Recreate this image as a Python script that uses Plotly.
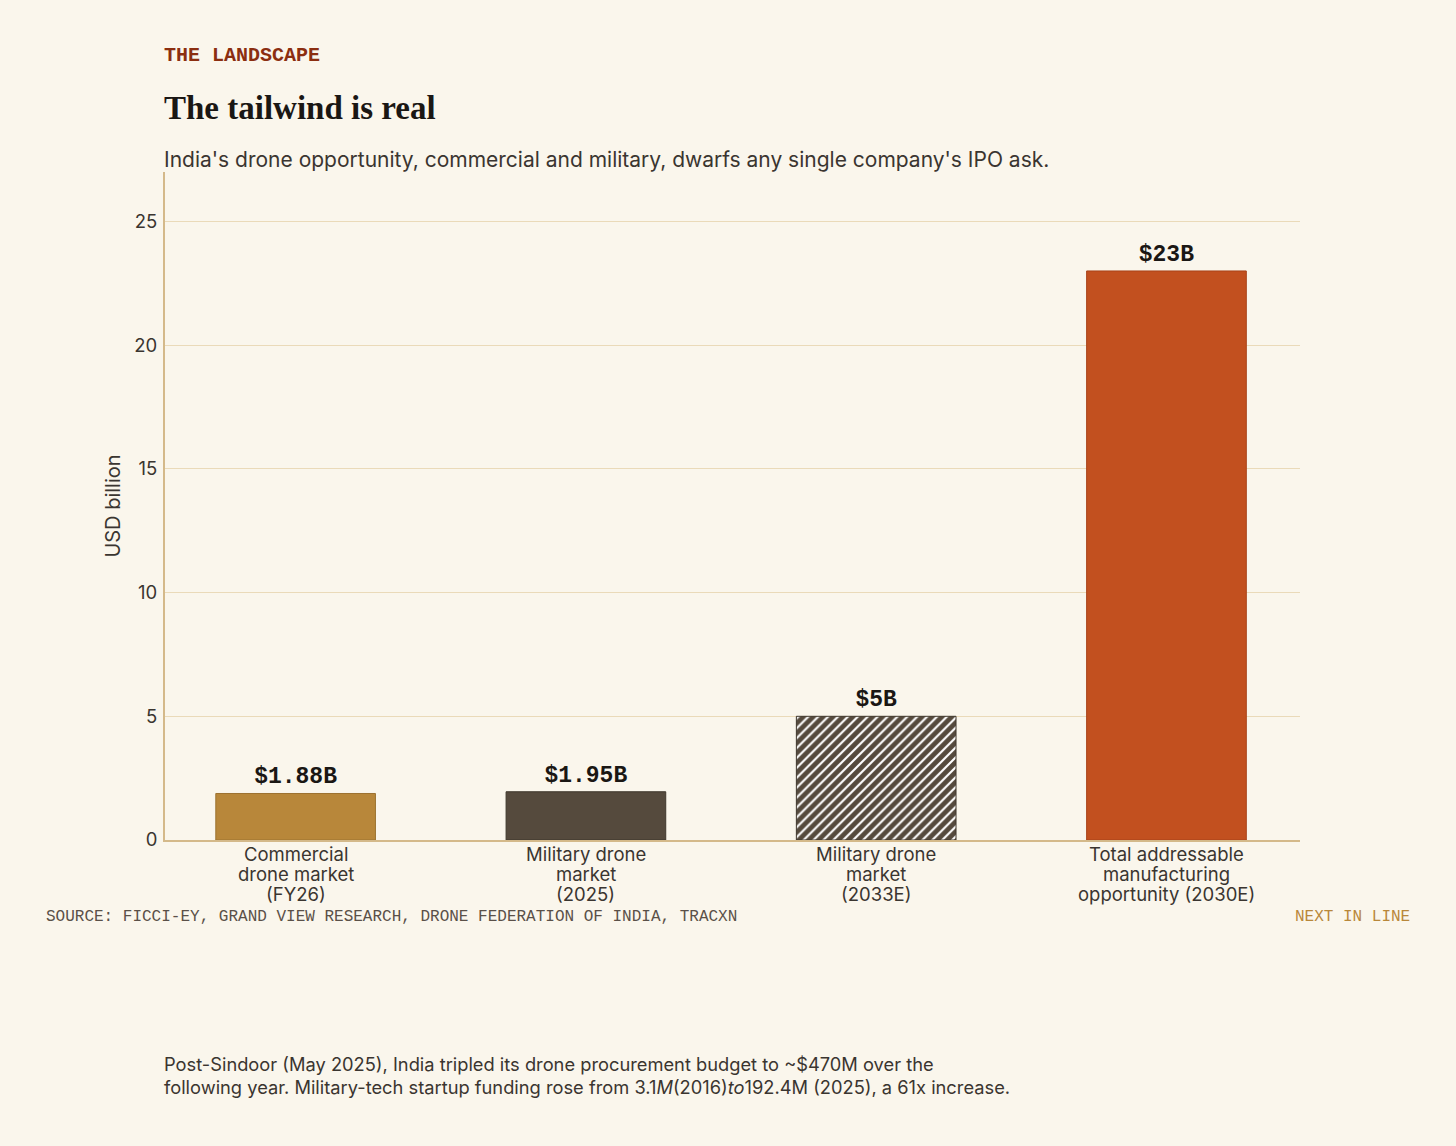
import plotly.graph_objects as go

# data
categories = [
    "Commercial<br>drone market<br>(FY26)",
    "Military drone<br>market<br>(2025)",
    "Military drone<br>market<br>(2033E)",
    "Total addressable<br>manufacturing<br>opportunity (2030E)",
]
values = [1.88, 1.95, 5, 23]
value_labels = ["$1.88B", "$1.95B", "$5B", "$23B"]
bar_colors = ["#B8873A", "#554A3D", "#554A3D", "#C2501F"]
line_colors = ["#9C7230", "#3F372D", "#3F372D", "#A8431A"]
pattern_shapes = ["", "", "/", ""]
y_ticks = [0, 5, 10, 15, 20, 25]

W, H = 1456, 1146
L, R, T, B = 165, 156, 172, 306

BG = "#FAF6EC"
INK = "#3A3530"
MONO = "Liberation Mono, DejaVu Sans Mono, monospace"
SANS = "Inter, Noto Sans, sans-serif"
SERIF = "Liberation Serif, DejaVu Serif, serif"

fig = go.Figure()
fig.add_trace(go.Bar(
    x=list(range(len(categories))),
    y=values,
    width=0.55,
    text=value_labels,
    textposition="outside",
    cliponaxis=False,
    textfont=dict(family=MONO, size=23, color="#1A1714", weight="bold"),
    marker=dict(
        color=bar_colors,
        line=dict(color=line_colors, width=1),
        pattern=dict(shape=pattern_shapes, fgcolor=BG, fgopacity=1, size=7,
                     solidity=0.3, fillmode="overlay"),
    ),
    showlegend=False,
    hoverinfo="skip",
))

fig.update_layout(
    width=W, height=H,
    paper_bgcolor=BG, plot_bgcolor=BG,
    margin=dict(l=L, r=R, t=T, b=B),
    font=dict(family=SANS, color=INK, size=18),
)

# category labels are drawn line by line below (tighter leading than ticktext)
fig.update_xaxes(
    range=[-0.45, 3.46],
    tickmode="array",
    tickvals=list(range(len(categories))),
    ticktext=["" for _ in categories],
    showline=True, linecolor="#D4B98A", linewidth=2,
    showgrid=False, ticks="", zeroline=False,
    automargin=False,
)
fig.update_yaxes(
    range=[0, 27],
    tickvals=y_ticks,
    tickfont=dict(family=SANS, size=18.5, color=INK),
    showline=True, linecolor="#D4B98A", linewidth=2,
    gridcolor="#EADAB9", gridwidth=1,
    zeroline=False, ticks="", ticklabelstandoff=2,
    title=dict(text="USD billion", font=dict(family=SANS, size=20, color=INK), standoff=8),
    automargin=False,
)


def paper_y(px_y):
    return (H - B - px_y) / (H - T - B)


def paper_x(px_x):
    return (px_x - L) / (W - L - R)


for i, cat in enumerate(categories):
    for k, line in enumerate(cat.split("<br>")):
        fig.add_annotation(
            text=line, x=i, xref="x", y=paper_y(854 + 20 * k), yref="paper",
            xanchor="center", yanchor="middle", showarrow=False, borderpad=0,
            font=dict(family=SANS, size=18.5, color=INK),
        )

texts = [
    ("<b>THE LANDSCAPE</b>", 163, 55, "left", dict(family=MONO, size=20, color="#8B2E10")),
    ("<b>The tailwind is real</b>", 163, 108, "left", dict(family=SERIF, size=33, color="#1A1714")),
    ("India's drone opportunity, commercial and military, dwarfs any single company's IPO ask.",
     163, 160, "left", dict(family=SANS, size=21, color=INK)),
    ("SOURCE: FICCI-EY, GRAND VIEW RESEARCH, DRONE FEDERATION OF INDIA, TRACXN",
     45, 917, "left", dict(family=MONO, size=16, color="#5A5048")),
    ("NEXT IN LINE", 1411, 917, "right", dict(family=MONO, size=16, color="#B8873A")),
    ("Post-Sindoor (May 2025), India tripled its drone procurement budget to ~$470M over the",
     163, 1064, "left", dict(family=SANS, size=18.3, color=INK)),
    ("following year. Military-tech startup funding rose from 3.1<i>M</i>(2016)<i>to</i>192.4M (2025), a 61x increase.",
     163, 1087, "left", dict(family=SANS, size=18.3, color=INK)),
]
for text, px_x, px_y, anchor, font in texts:
    fig.add_annotation(
        text=text, x=paper_x(px_x), y=paper_y(px_y), xref="paper", yref="paper",
        xanchor=anchor, yanchor="middle", showarrow=False, borderpad=0, font=font,
    )

fig.write_html("out.html", config={"displayModeBar": False},
               post_script="document.body.style.margin='0';")
